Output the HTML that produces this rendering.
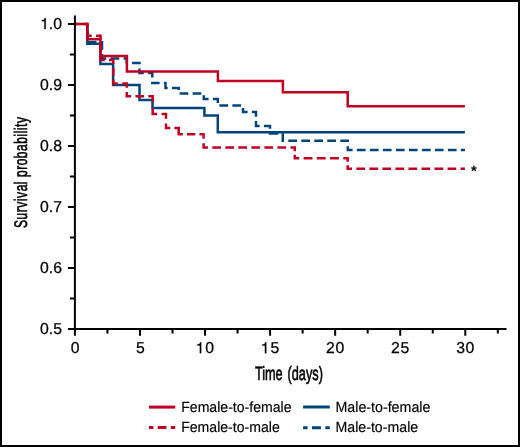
<!DOCTYPE html>
<html><head><meta charset="utf-8"><style>
html,body{margin:0;padding:0;background:#fff;}
#c{position:relative;width:520px;height:447px;overflow:hidden;background:#fff;}
svg{position:absolute;left:0;top:0;will-change:transform;}
text{font-family:"Liberation Sans",sans-serif;fill:#000;text-rendering:geometricPrecision;}
.t{font-size:15.8px;stroke:#000;stroke-width:0.25px;}
.lg{font-size:14.3px;stroke:#000;stroke-width:0.15px;}
.ast{font-size:15px;font-weight:bold;}
</style></head><body><div id="c">
<svg width="520" height="447" viewBox="0 0 520 447">
<rect x="1" y="1" width="518" height="445" fill="#fff" stroke="#000" stroke-width="2"/>
<path transform="translate(39.93,28.90) scale(0.01580,-0.01537)" d="M280,0L368,0L368,709L305,709C272,598 248,581 114,565L114,503L280,503Z" fill="#000" stroke="#000" stroke-width="15.8"/>
<text x="48.82" y="28.9" class="t">.0</text>
<text x="62" y="89.9" text-anchor="end" class="t">0.9</text>
<text x="62" y="150.9" text-anchor="end" class="t">0.8</text>
<text x="62" y="212.0" text-anchor="end" class="t">0.7</text>
<text x="62" y="273.0" text-anchor="end" class="t">0.6</text>
<text x="62" y="334.0" text-anchor="end" class="t">0.5</text>
<text x="75.2" y="353.2" text-anchor="middle" class="t">0</text>
<text x="140.3" y="353.2" text-anchor="middle" class="t">5</text>
<path transform="translate(195.41,353.20) scale(0.01580,-0.01537)" d="M280,0L368,0L368,709L305,709C272,598 248,581 114,565L114,503L280,503Z" fill="#000" stroke="#000" stroke-width="15.8"/>
<text x="205.33" y="353.2" class="t">0</text>
<path transform="translate(260.48,353.20) scale(0.01580,-0.01537)" d="M280,0L368,0L368,709L305,709C272,598 248,581 114,565L114,503L280,503Z" fill="#000" stroke="#000" stroke-width="15.8"/>
<text x="270.40" y="353.2" class="t">5</text>
<text x="335.5" y="353.2" text-anchor="middle" class="t" style="letter-spacing:0.6px">20</text>
<text x="400.5" y="353.2" text-anchor="middle" class="t" style="letter-spacing:0.6px">25</text>
<text x="465.6" y="353.2" text-anchor="middle" class="t" style="letter-spacing:0.6px">30</text>
<text transform="translate(27.2,172.2) rotate(-90) scale(0.66,1)" text-anchor="middle" style="font-size:18.2px;font-weight:normal;stroke:#000;stroke-width:0.6px;word-spacing:0px;letter-spacing:0.81px" class="al">Survival probability</text>
<text transform="translate(288.9,379.9) scale(0.66,1)" text-anchor="middle" style="font-size:19.3px;font-weight:normal;stroke:#000;stroke-width:0.6px;word-spacing:2px" class="al">Time (days)</text>
<path d="M87.3,24.0H87.3V42.3H102.0V58.4H126.8V62.9H139.5V72.9H152.3V83.1H165.5V88.0H178.7V93.4H203.8V99.1H217.8V105.6H243.0V112.1H256.0V126.1H270.0V133.4H282.8V140.7H347.8V150.1H464.9" stroke="#00447c" stroke-width="2.5" fill="none" stroke-dasharray="8.7 4.3" stroke-dashoffset="20.30"/>
<path d="M87.3,24.0H87.3V43.8H100.4V64.0H113.1V85.1H139.5V99.9H152.5V108.0H204.4V115.4H217.8V132.2H464.9" stroke="#00447c" stroke-width="2.5" fill="none"/>
<path d="M74.90,24.00L79.03,24.00M83.17,24.00L87.30,24.00L87.30,27.90M87.30,31.80L87.30,35.70L91.70,35.70M96.10,35.70L100.50,35.70L100.50,39.75M100.50,43.80L100.50,51.90M100.50,55.95L100.50,60.00L104.77,60.00M109.03,60.00L113.30,60.00L113.30,63.92M113.30,67.83L113.30,75.67M113.30,79.58L113.30,83.50L117.80,83.50M122.30,83.50L126.80,83.50L126.80,87.73M126.80,91.97L126.80,96.20L131.12,96.20M135.43,96.20L144.07,96.20M148.38,96.20L152.70,96.20L152.70,102.13M152.70,108.07L152.70,114.00L157.13,114.00M161.57,114.00L166.00,114.00L166.00,118.70M166.00,123.40L166.00,128.10L170.23,128.10M174.47,128.10L178.70,128.10L178.70,134.20L182.85,134.20M187.00,134.20L195.30,134.20M199.45,134.20L203.60,134.20L203.60,138.67M203.60,143.13L203.60,147.60L207.94,147.60M212.29,147.60L220.97,147.60M225.31,147.60L234.00,147.60M238.34,147.60L247.03,147.60M251.37,147.60L260.06,147.60M264.40,147.60L273.09,147.60M277.43,147.60L286.11,147.60M290.46,147.60L294.80,147.60L294.80,151.13M294.80,154.67L294.80,158.20L299.21,158.20M303.62,158.20L312.43,158.20M316.84,158.20L325.66,158.20M330.07,158.20L338.88,158.20M343.29,158.20L347.70,158.20L347.70,161.70M347.70,165.20L347.70,168.70L352.04,168.70M356.38,168.70L365.06,168.70M369.40,168.70L378.09,168.70M382.43,168.70L391.11,168.70M395.45,168.70L404.13,168.70M408.47,168.70L417.15,168.70M421.49,168.70L430.17,168.70M434.51,168.70L443.20,168.70M447.54,168.70L456.22,168.70M460.56,168.70L464.90,168.70" stroke="#c00022" stroke-width="2.5" fill="none" stroke-miterlimit="10"/>
<path d="M74.9,24.0H87.3V39.2H100.4V56.0H126.9V71.4H217.9V81.1H282.9V92.2H347.7V106.3H464.9" stroke="#c00022" stroke-width="2.5" fill="none"/>
<path d="M74.9,15.6V329.1M74.9,329.1H506.5M67.9,24.00H74.9M69.9,54.51H74.9M67.9,85.02H74.9M69.9,115.53H74.9M67.9,146.04H74.9M69.9,176.55H74.9M67.9,207.06H74.9M69.9,237.57H74.9M67.9,268.08H74.9M69.9,298.59H74.9M67.9,329.10H74.9M74.90,329.1V335.7M107.43,329.1V333.6M139.97,329.1V335.7M172.50,329.1V333.6M205.03,329.1V335.7M237.56,329.1V333.6M270.10,329.1V335.7M302.63,329.1V333.6M335.16,329.1V335.7M367.69,329.1V333.6M400.23,329.1V335.7M432.76,329.1V333.6M465.29,329.1V335.7M497.82,329.1V333.6" stroke="#000" stroke-width="2.0" fill="none"/>
<text x="474" y="175.9" text-anchor="middle" class="ast">*</text>
<path d="M149,407.1H175.2" stroke="#c00022" stroke-width="3.0"/>
<path d="M149,427.6H153.37M157.73,427.6H166.47M170.83,427.6H175.2" stroke="#c00022" stroke-width="3.0"/>
<path d="M303.1,407.0H329.8" stroke="#00447c" stroke-width="3.0"/>
<path d="M303.1,427.8H307.55M312.0,427.8H320.9M325.35,427.8H329.8" stroke="#00447c" stroke-width="3.0"/>
<text transform="translate(181.2,411.7) scale(0.985,1.03)" class="lg">Female-to-female</text>
<text transform="translate(181.2,432.4) scale(0.984,1.03)" class="lg">Female-to-male</text>
<text transform="translate(335.5,411.7) scale(0.995,1.03)" class="lg">Male-to-female</text>
<text transform="translate(335.5,432.4) scale(0.991,1.03)" class="lg">Male-to-male</text>
</svg></div></body></html>
